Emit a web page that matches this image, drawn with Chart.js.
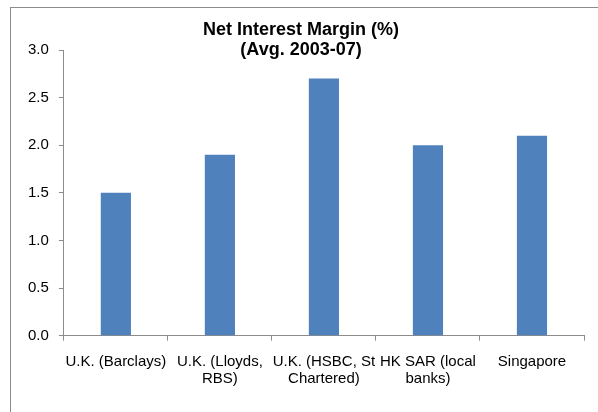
<!DOCTYPE html>
<html>
<head>
<meta charset="utf-8">
<script src="https://cdn.jsdelivr.net/npm/chart.js@4/dist/chart.umd.min.js"></script>
<style>
  html, body { margin: 0; padding: 0; background: #fff; overflow: hidden; }
  #frame {
    position: absolute; left: 10px; top: 7px;
    width: 600px; height: 420px;
    border-left: 1px solid #8c8c8c; border-top: 1px solid #8c8c8c;
  }
  #box { position: absolute; left: 0; top: 0; width: 587px; height: 404px; }
</style>
</head>
<body>
<div id="frame"><div id="box"><canvas id="grafico"></canvas></div></div>
<script>
// dati del grafico
var categorie = [
    'U.K. (Barclays)',
    ['U.K. (Lloyds,', 'RBS)'],
    ['U.K. (HSBC, St', 'Chartered)'],
    ['HK SAR (local', 'banks)'],
    'Singapore'
];
var margini = [1.5, 1.9, 2.7, 2.0, 2.1];
var titolo = ['Net Interest Margin (%)', '(Avg. 2003-07)'];

var grigio = '#8c8c8c';
var font = '"Liberation Sans", Arial, sans-serif';

var ctx = document.getElementById('grafico').getContext('2d');
var grafico = new Chart(ctx, {
    type: 'bar',
    data: {
        labels: categorie,
        datasets: [{
            data: margini,
            backgroundColor: '#4f81bd',
            borderWidth: 0,
            categoryPercentage: 1.0,
            barPercentage: 0.29
        }]
    },
    options: {
        responsive: true,
        maintainAspectRatio: false,
        animation: false,
        layout: { padding: { left: 7, right: 14, top: 0, bottom: 12 } },
        plugins: {
            legend: { display: false },
            tooltip: { enabled: false },
            title: {
                display: true,
                text: titolo,
                color: '#000',
                font: { family: font, size: 18, weight: 'bold', lineHeight: 1.1 },
                padding: { top: 12, bottom: -9.6 }
            }
        },
        scales: {
            x: {
                grid: { drawOnChartArea: false, tickLength: 5, color: grigio, offset: true },
                border: { color: grigio },
                ticks: {
                    color: '#000', padding: 13, maxRotation: 0, autoSkip: false,
                    font: { family: font, size: 15, lineHeight: 1.11 }
                }
            },
            y: {
                min: 0,
                max: 3,
                grid: { drawOnChartArea: false, tickLength: 5, color: grigio },
                border: { color: grigio },
                ticks: {
                    stepSize: 0.5, color: '#000', padding: 10,
                    font: { family: font, size: 15 },
                    callback: function(v) { return v.toFixed(1); }
                }
            }
        }
    }
});
</script>
</body>
</html>
